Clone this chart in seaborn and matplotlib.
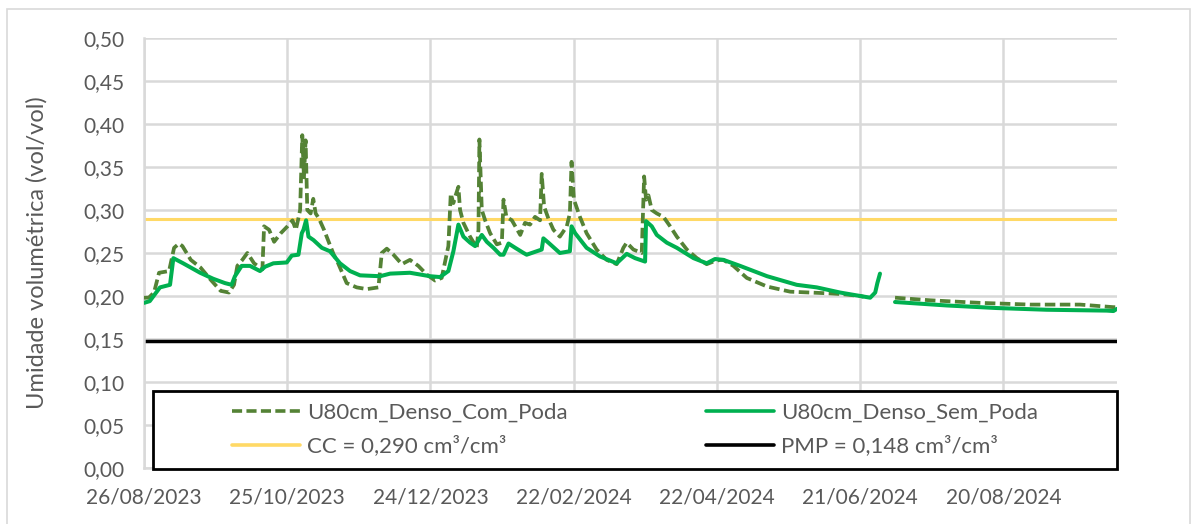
import numpy as np
import pandas as pd
import matplotlib.pyplot as plt
from matplotlib.lines import Line2D
from matplotlib.patches import Rectangle
import seaborn as sns

# dias contados a partir de 26/08/2023
start = pd.Timestamp("2023-08-26")
end_day = 407.6

com_day = [0, 2, 4.2, 6.3, 10.5, 12.6, 14.7, 16.1, 19.6, 23.7, 27.9, 32.1, 35.6, 37.7,
           39.1, 41.2, 43.3, 46.1, 49.6, 50.3, 52.4, 54.5, 57.3, 60.1, 62.2, 63.6, 64.5,
           65.4, 66.3, 67.0, 67.7, 68.4, 69.8, 70.9, 71.9, 73.3, 75.4, 77.5, 79.5, 80.7,
           84.9, 89.1, 93.3, 98.2, 99.6, 101.7, 104.5, 108.0, 111.4, 114.9, 118.4, 121.9,
           124.7, 127.5, 128.5, 129.6, 130.3, 131.7, 132.4, 133.8, 136.6, 139.4, 140.1,
           140.5, 141.5, 142.9, 145.0, 147.8, 149.9, 150.6, 151.8, 154.1, 157.6, 159.6,
           161.7, 163.8, 165.9, 166.6, 167.6, 169.4, 171.5, 174.2, 177.1, 178.4, 179.1,
           180.1, 182.6, 185.4, 189.6, 193.8, 198.0, 200.8, 202.2, 205.0, 208.5, 209.5,
           210.3, 211.3, 212.7, 214.8, 217.6, 220.4, 223.2, 227.4, 231.6, 235.7, 238.5,
           241.3, 242.7, 246.9, 252.5, 261.0, 270.7, 279.1, 287.5, 293.0, 300.0, 301.5,
           310.0, 314.6, 329.3, 350.2, 371.2, 392.1, 406.1, 407.6]
com_val = [0.198, 0.198, 0.204, 0.227, 0.229, 0.256, 0.261, 0.258, 0.242, 0.233, 0.219,
           0.206, 0.204, 0.213, 0.235, 0.242, 0.250, 0.238, 0.231, 0.281, 0.277, 0.263,
           0.273, 0.281, 0.288, 0.277, 0.288, 0.300, 0.387, 0.338, 0.381, 0.300, 0.296,
           0.313, 0.296, 0.290, 0.277, 0.262, 0.248, 0.242, 0.215, 0.210, 0.208, 0.210,
           0.250, 0.255, 0.248, 0.237, 0.242, 0.235, 0.225, 0.218, 0.221, 0.258, 0.319,
           0.308, 0.315, 0.327, 0.300, 0.285, 0.269, 0.256, 0.277, 0.382, 0.300, 0.288,
           0.273, 0.260, 0.262, 0.312, 0.292, 0.288, 0.271, 0.285, 0.283, 0.292, 0.288,
           0.342, 0.304, 0.290, 0.277, 0.269, 0.281, 0.296, 0.356, 0.312, 0.292, 0.273,
           0.254, 0.242, 0.237, 0.256, 0.262, 0.254, 0.250, 0.339, 0.312, 0.317, 0.300,
           0.296, 0.292, 0.281, 0.269, 0.254, 0.244, 0.237, 0.240, 0.242, 0.242, 0.235,
           0.221, 0.211, 0.205, 0.204, 0.203, 0.202, 0.200, 0.199,
           np.nan, 0.198, 0.195, 0.192, 0.190, 0.190, 0.187, 0.187]

sem_day = [0, 2.4, 6.7, 10.9, 12.3, 16.4, 23.5, 29.0, 33.9, 36.7, 38.1, 40.9, 44.4, 48.6,
           50.7, 54.2, 59.8, 61.9, 64.7, 66.1, 66.8, 67.9, 68.9, 71.0, 74.5, 77.9, 82.1,
           86.3, 90.5, 98.9, 103.1, 111.4, 115.6, 119.8, 124.0, 127.5, 129.6, 131.7, 133.8,
           136.6, 138.7, 141.5, 143.6, 146.4, 149.2, 150.6, 152.7, 155.5, 159.0, 160.3,
           164.5, 166.6, 167.3, 169.4, 174.2, 178.4, 179.1, 180.6, 185.4, 191.0, 198.0,
           202.2, 205.7, 209.9, 210.3, 212.7, 214.8, 219.0, 223.2, 230.2, 235.7, 239.2,
           242.7, 249.7, 261.0, 273.4, 281.8, 291.6, 300.0, 304.2, 306.3, 307.2, 308.3,
           311.0, 314.6, 336.2, 357.2, 378.1, 403.3, 406.1, 407.5]
sem_val = [0.192, 0.194, 0.210, 0.213, 0.244, 0.238, 0.227, 0.220, 0.215, 0.213, 0.223,
           0.235, 0.235, 0.229, 0.234, 0.238, 0.239, 0.247, 0.248, 0.273, 0.277, 0.288,
           0.269, 0.265, 0.256, 0.252, 0.238, 0.229, 0.224, 0.223, 0.226, 0.227, 0.225,
           0.223, 0.222, 0.229, 0.252, 0.283, 0.269, 0.262, 0.258, 0.271, 0.263, 0.256,
           0.248, 0.248, 0.261, 0.256, 0.250, 0.248, 0.252, 0.254, 0.267, 0.262, 0.250,
           0.252, 0.281, 0.273, 0.256, 0.246, 0.238, 0.249, 0.244, 0.240, 0.287, 0.281,
           0.271, 0.262, 0.256, 0.244, 0.238, 0.243, 0.242, 0.235, 0.223, 0.213, 0.210,
           0.204, 0.200, 0.198, 0.204, 0.215, 0.226,
           np.nan, 0.193, 0.189, 0.186, 0.184, 0.183, 0.1825, 0.185]

cc = 0.290
pmp = 0.148

x_ticks = ["26/08/2023", "25/10/2023", "24/12/2023", "22/02/2024",
           "22/04/2024", "21/06/2024", "20/08/2024"]
labels = ["U80cm_Denso_Com_Poda", "CC = 0,290 cm³/cm³",
          "U80cm_Denso_Sem_Poda", "PMP = 0,148 cm³/cm³"]

c_com = "#548235"
c_sem = "#00B050"
c_cc = "#FFD966"
c_txt = "#595959"
c_grid = "#D9D9D9"

sns.set_theme(style="white")
plt.rcParams['font.family'] = ['Lato', 'DejaVu Sans']


def draw(ax, days, vals, **kw):
    df = pd.DataFrame({"date": start + pd.to_timedelta(days, unit="D"), "v": vals})
    df["seg"] = df["v"].isna().cumsum()
    df = df.dropna()
    sns.lineplot(data=df, x="date", y="v", units="seg", estimator=None,
                 legend=False, ax=ax, **kw)


fig = plt.figure(figsize=(11.97, 5.24), dpi=100)
ax = fig.add_axes([0.1203, 0.1069, 0.8129, 0.8206])

ax.axhline(cc, color=c_cc, lw=2.2, zorder=2)
ax.axhline(pmp, color="black", lw=2.5, zorder=2)
draw(ax, com_day, com_val, color=c_com, lw=2.7, linestyle=(0, (2.8, 1.2)), zorder=3)
draw(ax, sem_day, sem_val, color=c_sem, lw=2.9, zorder=4)

ax.set_xlim(start, start + pd.Timedelta(days=end_day))
ax.set_ylim(0, 0.5)
ax.set_yticks(np.arange(0, 0.501, 0.05))
ax.set_yticklabels([f"{v:.2f}".replace(".", ",") for v in np.arange(0, 0.501, 0.05)])
ax.set_xticks([pd.to_datetime(t, dayfirst=True) for t in x_ticks])
ax.set_xticklabels(x_ticks)
ax.tick_params(length=0, labelsize=15, labelcolor=c_txt)
ax.tick_params(axis="y", pad=14)
ax.tick_params(axis="x", pad=14)
ax.grid(True, color=c_grid, lw=1.8)
ax.set_axisbelow(True)
for s in ["top", "right"]:
    ax.spines[s].set_visible(False)
for s in ["left", "bottom"]:
    ax.spines[s].set_color(c_grid)
    ax.spines[s].set_linewidth(1.8)

ax.set_xlabel("")
ax.set_ylabel("Umidade volumétrica (vol/vol)", fontsize=17, color=c_txt, labelpad=26)

# caixa da legenda
box = Rectangle((0.00925, -0.002), 0.99075, 0.181, transform=ax.transAxes,
                fc="white", ec="black", lw=2, zorder=5, clip_on=False)
ax.add_patch(box)
handles = [Line2D([], [], color=c_com, lw=2.6, linestyle=(0, (2.8, 1.2))),
           Line2D([], [], color=c_cc, lw=2.6),
           Line2D([], [], color=c_sem, lw=2.6),
           Line2D([], [], color="black", lw=2.6)]
leg = ax.legend(handles, labels, ncol=2, loc="center", bbox_to_anchor=(0.5046, 0.089),
                frameon=False, fontsize=16, handlelength=3.06, handletextpad=0.31,
                labelspacing=0.55, columnspacing=6.25, labelcolor=c_txt)
leg.set_zorder(6)

# borda da area do grafico
fig.patches.append(Rectangle((7 / 1197, -0.05), 1183 / 1197, 1.05 - 9 / 524,
                             transform=fig.transFigure, fill=False, ec=c_grid, lw=1.2))

fig.savefig("out.png", dpi=100)
plt.close()
